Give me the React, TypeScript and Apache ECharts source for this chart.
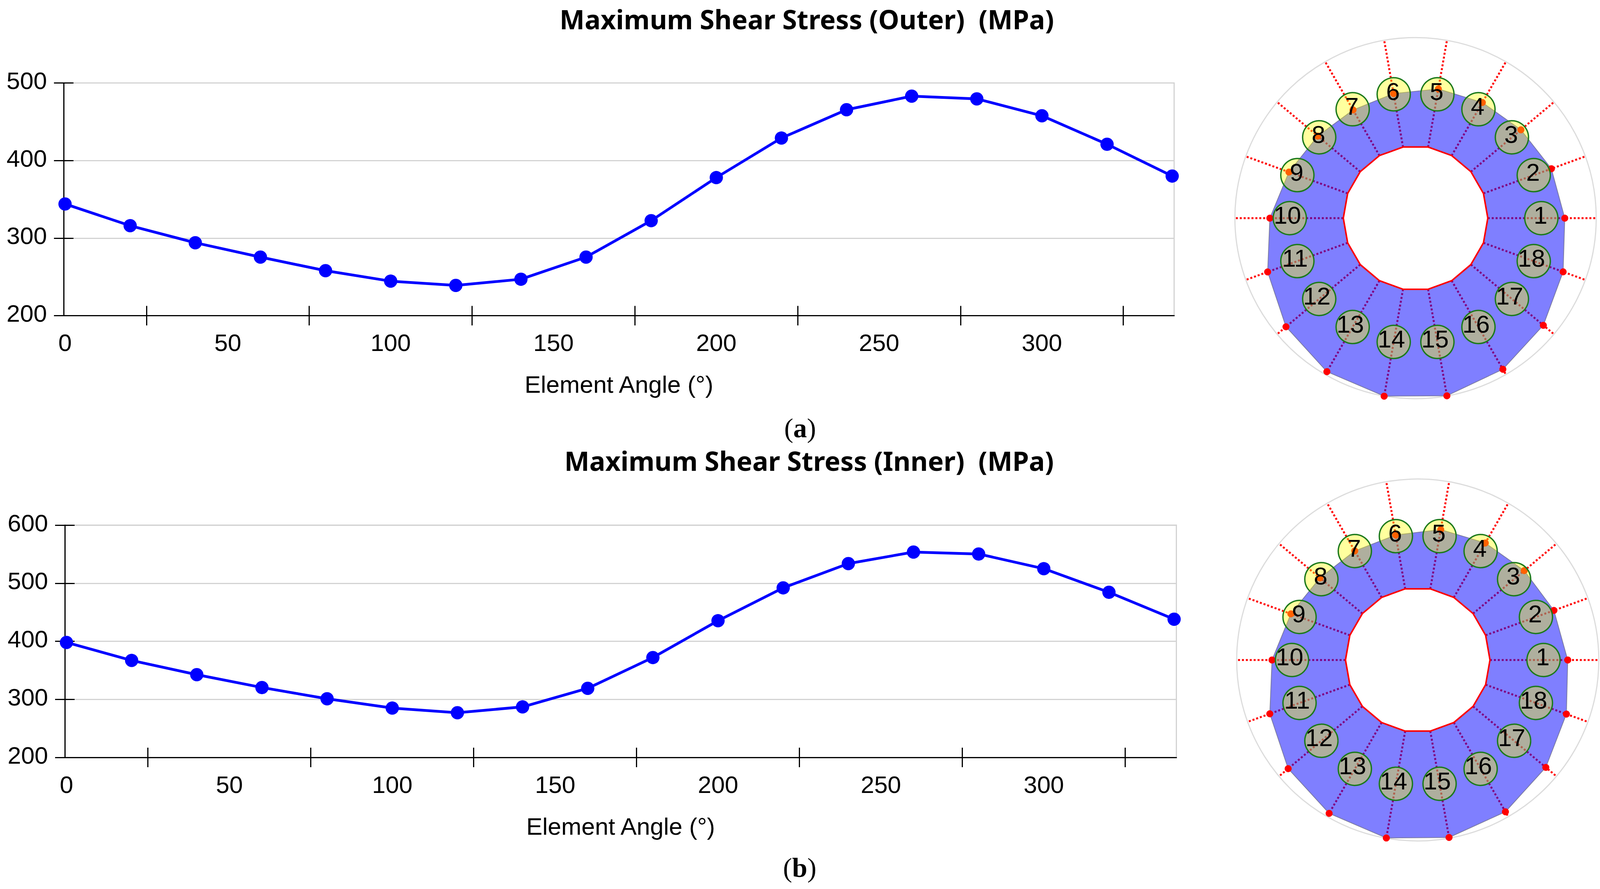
import React, { useEffect, useRef } from "react";
import * as echarts from "echarts";

// The browser window tops out at 4096 px wide, so horizontal layout is fitted to it.
const W = 4096;
const H = 2277;
const FIT = 4096 / 4268;

const elementAngles = [0, 20, 40, 60, 80, 100, 120, 140, 160, 180, 200, 220, 240, 260, 280, 300, 320, 340];
const elementLabels = ["1", "2", "3", "4", "5", "6", "7", "8", "9", "10", "11", "12", "13", "14", "15", "16", "17", "18"];
const outerStress = [344, 316, 294, 275.5, 258, 244.5, 239, 247, 275.5, 322.5, 378, 429, 465.5, 483, 479.5, 457.7, 421, 380];
const innerStress = [398, 367, 342.5, 320.4, 301, 285, 277, 287, 319, 372, 435.4, 492, 533.8, 553.6, 550.3, 525, 484.4, 438];
const xLabelValues = [0, 50, 100, 150, 200, 250, 300];
const xTickValues = [25, 75, 125, 175, 225, 275, 325];
const ringRadiiOuter = [382, 370, 352, 342, 336, 324, 320, 327, 345, 373, 403, 433, 454, 463, 462, 447, 427, 402];
const ringRadiiInner = [384, 371, 356, 346, 339, 325, 322.5, 327, 345.6, 373, 403, 433, 453.6, 463, 461.6, 449, 428, 405];
const holeRadii = [185, 185, 185, 185, 185, 185, 185, 185, 185, 185, 185, 185, 185, 185, 185, 185, 185, 185];
const bubbleRadii = [322, 322, 322, 322, 322, 322, 322, 322, 322, 322, 322, 322, 322, 322, 322, 322, 322, 322];

const SANS = '"Liberation Sans", Arial, sans-serif';
const TITLE_FONT = '"Noto Sans", sans-serif';
const SERIF = '"Liberation Serif", serif';
const GRID_GREY = "#d3d3d3";

type PanelSpec = {
  title: string;
  titleX: number;
  titleY: number;
  captionLetter: string;
  captionX: number;
  captionY: number;
  left: number;
  right: number;
  top: number;
  bottom: number;
  xMin: number;
  xMax: number;
  yMin: number;
  yMax: number;
  values: number[];
  ringCx: number;
  ringCy: number;
  ringR: number;
  radii: number[];
};

const panels: PanelSpec[] = [
  {
    title: "Maximum Shear Stress (Outer)  (MPa)",
    titleX: 2147,
    titleY: 43,
    captionLetter: "a",
    captionX: 2129,
    captionY: 1091,
    left: 170,
    right: 3132,
    top: 212.5,
    bottom: 808.5,
    xMin: -0.4,
    xMax: 340.6,
    yMin: 200,
    yMax: 500,
    values: outerStress,
    ringCx: 3776,
    ringCy: 558.7,
    ringR: 462.5,
    radii: ringRadiiOuter,
  },
  {
    title: "Maximum Shear Stress (Inner)  (MPa)",
    titleX: 2153,
    titleY: 1174,
    captionLetter: "b",
    captionX: 2128,
    captionY: 2217,
    left: 173,
    right: 3138,
    top: 1345,
    bottom: 1940,
    xMin: -0.5,
    xMax: 340.7,
    yMin: 200,
    yMax: 600,
    values: innerStress,
    ringCx: 3781.8,
    ringCy: 1690.4,
    ringR: 463.5,
    radii: ringRadiiInner,
  },
];

function closedRing(radii: number[]) {
  const pts = radii.map((r, i) => [r, elementAngles[i]]);
  pts.push([radii[0], 360]);
  return pts;
}

function buildOption() {
  const option: any = {
    animation: false,
    backgroundColor: "#ffffff",
    title: [],
    grid: [],
    xAxis: [],
    yAxis: [],
    polar: [],
    angleAxis: [],
    radiusAxis: [],
    series: [],
  };

  panels.forEach((p, idx) => {
    const axisLine = { lineStyle: { color: "#000000", width: 3 } };
    option.title.push({
      text: p.title,
      left: p.titleX * FIT,
      top: p.titleY,
      textAlign: "center",
      textVerticalAlign: "middle",
      textStyle: { fontFamily: TITLE_FONT, fontWeight: "bold", fontSize: 68, color: "#000000" },
    });
    option.title.push({
      text: "({b|" + p.captionLetter + "})",
      left: p.captionX * FIT,
      top: p.captionY,
      textAlign: "center",
      textVerticalAlign: "middle",
      textStyle: {
        fontFamily: SERIF,
        fontWeight: "normal",
        fontSize: 70,
        color: "#000000",
        rich: { b: { fontFamily: SERIF, fontWeight: "bold", fontSize: 70, color: "#000000" } },
      },
    });
    option.grid.push({
      left: p.left * FIT,
      top: p.top,
      width: (p.right - p.left) * FIT,
      height: p.bottom - p.top,
      show: true,
      borderColor: GRID_GREY,
      borderWidth: 3,
      backgroundColor: "transparent",
    });

    const ax0 = option.xAxis.length;
    option.xAxis.push({
      type: "value",
      gridIndex: idx,
      position: "bottom",
      min: p.xMin,
      max: p.xMax,
      splitLine: { show: false },
      axisLine: { ...axisLine, onZero: false },
      axisTick: { show: true, length: 25, customValues: xTickValues, lineStyle: { color: "#000000", width: 3 } },
      axisLabel: {
        show: true,
        customValues: xLabelValues,
        margin: 38,
        fontFamily: SANS,
        fontSize: 62,
        color: "#000000",
      },
      name: "Element Angle (°)",
      nameLocation: "middle",
      nameGap: 145,
      nameTextStyle: { fontFamily: SANS, fontSize: 62, color: "#000000" },
    });
    option.xAxis.push({
      type: "value",
      gridIndex: idx,
      position: "bottom",
      min: p.xMin,
      max: p.xMax,
      splitLine: { show: false },
      axisLine: { show: false, onZero: false },
      axisLabel: { show: false },
      axisTick: {
        show: true,
        inside: true,
        length: 25,
        customValues: xTickValues,
        lineStyle: { color: "#000000", width: 3 },
      },
    });

    const ay0 = option.yAxis.length;
    option.yAxis.push({
      type: "value",
      gridIndex: idx,
      position: "left",
      min: p.yMin,
      max: p.yMax,
      interval: 100,
      splitLine: { show: true, lineStyle: { color: GRID_GREY, width: 3 } },
      axisLine: { show: true, ...axisLine, onZero: false },
      axisTick: { show: true, length: 25, lineStyle: { color: "#000000", width: 3 } },
      axisLabel: {
        show: true,
        margin: 43,
        formatter: (v: number) => "{a|" + v + "}",
        rich: { a: { fontFamily: SANS, fontSize: 62, color: "#000000", padding: [0, 0, 12, 0] } },
      },
    });
    option.yAxis.push({
      type: "value",
      gridIndex: idx,
      position: "left",
      min: p.yMin,
      max: p.yMax,
      interval: 100,
      splitLine: { show: false },
      axisLine: { show: false, onZero: false },
      axisLabel: { show: false },
      axisTick: { show: true, inside: true, length: 25, lineStyle: { color: "#000000", width: 3 } },
    });

    option.series.push({
      type: "line",
      xAxisIndex: ax0,
      yAxisIndex: ay0,
      clip: false,
      z: 5,
      data: p.values.map((v, i) => [elementAngles[i], v]),
      symbol: "circle",
      symbolSize: 34,
      lineStyle: { color: "#0000ff", width: 7 },
      itemStyle: { color: "#0000ff" },
    });

    option.polar.push({ center: [p.ringCx * FIT, p.ringCy], radius: p.ringR });
    option.angleAxis.push({
      polarIndex: idx,
      type: "value",
      min: 0,
      max: 360,
      startAngle: 0,
      clockwise: false,
      axisLine: { show: true, lineStyle: { color: "#dcdcdc", width: 3 } },
      axisTick: { show: false },
      axisLabel: { show: false },
      splitLine: { show: false },
    });
    option.radiusAxis.push({
      polarIndex: idx,
      type: "value",
      min: 0,
      max: p.ringR,
      axisLine: { show: false },
      axisTick: { show: false },
      axisLabel: { show: false },
      splitLine: { show: false },
    });

    // spokes, lying under the translucent section
    elementAngles.forEach((a, i) => {
      option.series.push({
        type: "line",
        coordinateSystem: "polar",
        polarIndex: idx,
        clip: false,
        silent: true,
        z: 1,
        symbol: "none",
        lineStyle: { color: "#ff0000", width: 5, type: "dotted" },
        data: [
          [holeRadii[i], a],
          [p.ringR, a],
        ],
      });
    });
    // stressed section
    option.series.push({
      type: "line",
      coordinateSystem: "polar",
      polarIndex: idx,
      clip: false,
      silent: true,
      z: 2,
      symbol: "none",
      lineStyle: { color: "rgba(110,110,140,0.8)", width: 2 },
      areaStyle: { color: "rgba(0,0,255,0.5)", opacity: 1 },
      data: closedRing(p.radii),
    });
    // hole
    option.series.push({
      type: "line",
      coordinateSystem: "polar",
      polarIndex: idx,
      clip: false,
      silent: true,
      z: 3,
      symbol: "none",
      lineStyle: { color: "#ff0000", width: 4 },
      areaStyle: { color: "#ffffff", opacity: 1 },
      data: closedRing(holeRadii),
    });
    // stress tips
    option.series.push({
      type: "scatter",
      coordinateSystem: "polar",
      polarIndex: idx,
      clip: false,
      silent: true,
      z: 4,
      symbolSize: 18,
      itemStyle: { color: "#ff0000", opacity: 1 },
      data: p.radii.map((r, i) => [r, elementAngles[i]]),
    });
    // element bubbles
    option.series.push({
      type: "scatter",
      coordinateSystem: "polar",
      polarIndex: idx,
      clip: false,
      silent: true,
      z: 6,
      symbolSize: 85,
      itemStyle: { color: "rgba(255,255,0,0.38)", borderColor: "#1d7a1d", borderWidth: 3.5, opacity: 1 },
      label: {
        show: true,
        position: "inside",
        formatter: "{b}",
        fontFamily: SANS,
        fontSize: 63,
        color: "#000000",
      },
      data: bubbleRadii.map((r, i) => ({
        name: elementLabels[i],
        value: [r, elementAngles[i]],
        label: { offset: [elementLabels[i].length > 1 ? -6 : -2, -8] },
      })),
    });
  });

  return option;
}

export default function App() {
  const ref = useRef<HTMLDivElement>(null);
  useEffect(() => {
    document.body.style.margin = "0";
    const chart = echarts.init(ref.current!, undefined, { renderer: "svg", width: W, height: H });
    chart.setOption(buildOption());
    return () => chart.dispose();
  }, []);
  return <div ref={ref} style={{ width: W, height: H, position: "absolute", left: 0, top: 0 }} />;
}
